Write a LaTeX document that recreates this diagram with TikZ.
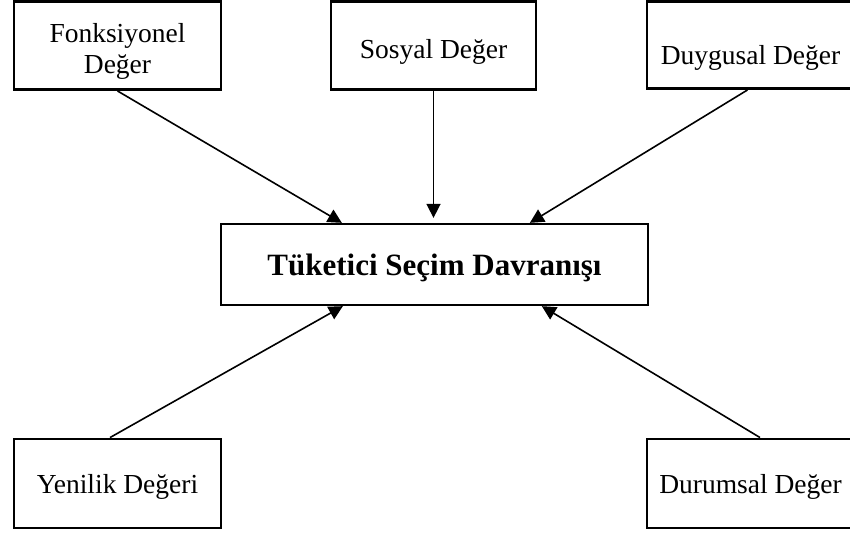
\documentclass[tikz,border=0pt]{standalone}
\usepackage{fontspec}
\setmainfont{Liberation Serif}
\usetikzlibrary{arrows.meta,calc}
% lower a label inside its box without changing the box size
\newcommand{\lowertext}[2]{\raisebox{-#1}[\height][\depth]{#2}}
\begin{document}
\begin{tikzpicture}[x=1pt,y=-1pt,
  valuebox/.style={draw, line width=2.9pt, rectangle, inner sep=0pt, align=center,
    minimum width=207pt, minimum height=88pt, font=\fontsize{27.5}{31}\selectfont},
  mainbox/.style={draw, line width=2.3pt, rectangle, inner sep=0pt,
    minimum width=427pt, minimum height=81pt, font=\bfseries\fontsize{31}{36}\selectfont},
  link/.style={line width=1.6pt, -{Triangle[length=14pt,width=14pt]}}]
\useasboundingbox (0,0) rectangle (850,533);
\clip (0,0) rectangle (850,533);

% value dimensions
\node[valuebox] (F) at (117.5,45.5)
  {\lowertext{6pt}{\setlength{\tabcolsep}{0pt}\begin{tabular}{c}Fonksiyonel\\Değer\end{tabular}}};
\node[valuebox, minimum width=205pt] (S) at (433.5,45.5) {\lowertext{6.5pt}{Sosyal Değer}};
\node[valuebox, minimum height=87pt] (D) at (750.5,45) {\lowertext{13pt}{Duygusal Değer}};
\node[valuebox, minimum height=89pt] (Y) at (117.5,483.5) {\lowertext{3.5pt}{Yenilik Değeri}};
\node[valuebox, minimum height=89pt] (Du) at (750.5,483.5) {\lowertext{3.5pt}{Durumsal Değer}};

% central outcome
\node[mainbox] (C) at (434.5,264.5) {\lowertext{3pt}{Tüketici Seçim Davranışı}};

% influences
\draw[link] (F.south) -- ([xshift=122pt]C.north west);
\draw[link, shorten >=5pt] (S.south) -- (S.south |- C.north);
\draw[link] ([xshift=-3pt]D.south) -- ([xshift=310pt]C.north west);
\draw[link] ([xshift=-7.5pt]Y.north) -- ([xshift=123pt]C.south west);
\draw[link] ([xshift=9.5pt]Du.north) -- ([xshift=322pt]C.south west);
\end{tikzpicture}
\end{document}
